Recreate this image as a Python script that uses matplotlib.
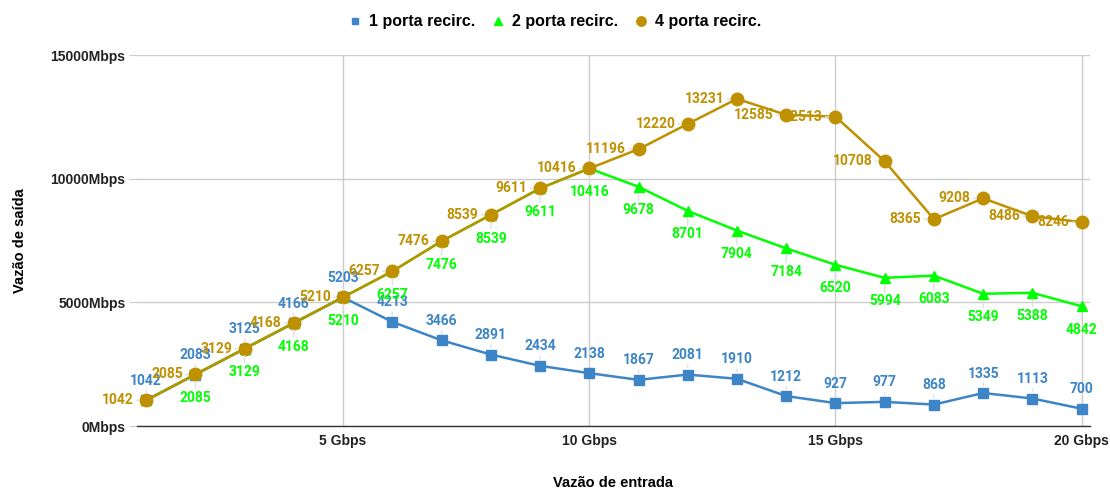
import matplotlib
matplotlib.use('Agg')
import matplotlib.pyplot as plt
from matplotlib.ticker import FuncFormatter

x_in = list(range(1, 21))
porta1 = [1042, 2083, 3125, 4166, 5203, 4213, 3466, 2891, 2434, 2138,
          1867, 2081, 1910, 1212, 927, 977, 868, 1335, 1113, 700]
porta2 = [1042, 2085, 3129, 4168, 5210, 6257, 7476, 8539, 9611, 10416,
          9678, 8701, 7904, 7184, 6520, 5994, 6083, 5349, 5388, 4842]
porta4 = [1042, 2085, 3129, 4168, 5210, 6257, 7476, 8539, 9611, 10416,
          11196, 12220, 13231, 12585, 12513, 10708, 8365, 9208, 8486, 8246]
series_names = ['1 porta recirc.', '2 porta recirc.', '4 porta recirc.']
x_ticks = [5, 10, 15, 20]
y_ticks = [0, 5000, 10000, 15000]

c_blue = '#3d85c6'
c_green = '#00ff00'
c_gold = '#bf9000'

fig = plt.figure(figsize=(11.1, 4.88), dpi=100)
ax = fig.add_axes([0.123, 0.127, 0.859, 0.76])

ax.plot(x_in, porta1, color=c_blue, marker='s', ms=6.5, lw=1.8, label=series_names[0], zorder=3)
ax.plot(x_in, porta2, color=c_green, marker='^', ms=7, lw=1.8, label=series_names[1], zorder=4)
ax.plot(x_in, porta4, color=c_gold, marker='o', ms=9, lw=1.8, label=series_names[2], zorder=5)

lab_font = dict(family='Roboto', weight='bold', fontsize=10)
stem = dict(arrowstyle='-', color='#e0e0e0', lw=1, shrinkA=0, shrinkB=5)

for xv, yv in zip(x_in, porta1):
    ax.annotate(str(yv), (xv, yv), xytext=(0, 14), textcoords='offset points',
                ha='center', va='center', color=c_blue, arrowprops=stem, zorder=6, **lab_font)
for xv, yv in zip(x_in, porta2):
    if xv == 1:
        continue
    ax.annotate(str(yv), (xv, yv), xytext=(0, -17), textcoords='offset points',
                ha='center', va='center', color=c_green, arrowprops=stem, zorder=6, **lab_font)
for xv, yv in zip(x_in, porta4):
    ax.annotate(str(yv), (xv, yv), xytext=(-9, 0), textcoords='offset points',
                ha='right', va='center', color=c_gold, arrowprops=stem, zorder=7, **lab_font)

ax.set_xlim(0.805, 20.17)
ax.set_ylim(0, 15000)
ax.set_xticks(x_ticks)
ax.set_xticklabels([f'{v} Gbps' for v in x_ticks])
ax.set_yticks(y_ticks)
ax.yaxis.set_major_formatter(FuncFormatter(lambda v, p: f'{int(v)}Mbps'))
for lbl in ax.get_xticklabels() + ax.get_yticklabels():
    lbl.set_family('Liberation Sans')
    lbl.set_fontweight('bold')
    lbl.set_fontsize(10)
    lbl.set_color('#222222')

ax.tick_params(axis='x', length=0, pad=6)
ax.tick_params(axis='y', length=6, color='#cccccc', pad=2)
ax.grid(True, color='#cccccc', lw=1)
ax.set_axisbelow(True)
for s in ['top', 'right', 'left']:
    ax.spines[s].set_visible(False)
ax.spines['bottom'].set_color('#333333')
ax.spines['bottom'].set_linewidth(1)

ax.set_xlabel('Vazão de entrada', family='Liberation Sans', weight='bold', fontsize=10.5, labelpad=20)
ax.set_ylabel('Vazão de saída', family='Liberation Sans', weight='bold', fontsize=10.5, labelpad=17)

leg = fig.legend(loc='upper center', bbox_to_anchor=(0.5, 1.0), ncol=3, frameon=False,
                 prop=dict(family='Liberation Sans', weight='bold', size=11.5),
                 handlelength=0.8, handletextpad=0.5, columnspacing=1.0, markerscale=0.75)
for h in leg.get_lines():
    h.set_linestyle('')

fig.savefig('out.png', dpi=100)
